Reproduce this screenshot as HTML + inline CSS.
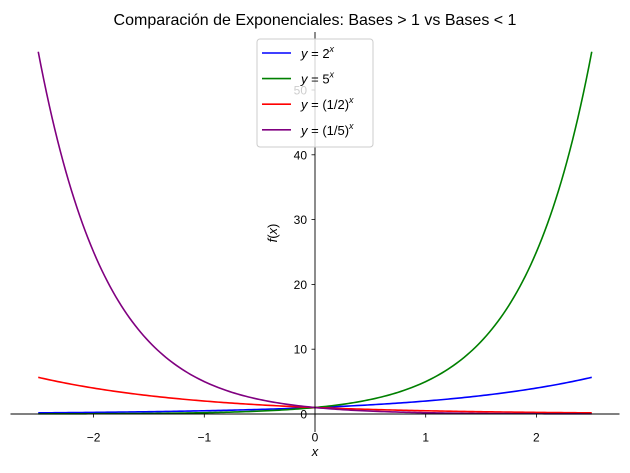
<!DOCTYPE html>
<html><head><meta charset="utf-8"><style>
body{margin:0;background:#fff;}
svg{font-family:"Liberation Sans","DejaVu Sans",sans-serif;}
</style></head><body>
<svg id="chart" width="630" height="468" viewBox="0 0 630 468">
<text x="315" y="25" text-anchor="middle" font-size="16">Comparación de Exponenciales: Bases &gt; 1 vs Bases &lt; 1</text>
<g id="curves"></g>
<g id="axes"></g>
<g id="legend"></g>
</svg>
<script>
const bases=[2,5,0.5,0.2];
const colors=["#0000ff","#008000","#ff0000","#800080"];
const labels=["2","5","(1/2)","(1/5)"];
const xTicks=[-2,-1,0,1,2];
const yTicks=[0,10,20,30,40,50];
const xMin=-2.5,xMax=2.5;
const ns="http://www.w3.org/2000/svg";
function sx(x){return 315+x*110.7;}
function sy(y){return 414-y*6.48;}
function mk(t,a,p){const e=document.createElementNS(ns,t);for(const k in a)e.setAttribute(k,a[k]);p.appendChild(e);return e;}
const curves=document.getElementById('curves');
bases.forEach((b,i)=>{
 let d="";
 for(let k=0;k<=200;k++){const x=xMin+(xMax-xMin)*k/200;d+=(k?"L":"M")+sx(x).toFixed(2)+","+sy(Math.pow(b,x)).toFixed(2);}
 const p=mk('path',{d:d,fill:"none",stroke:colors[i],"stroke-width":1.6},curves);
 
 
});
const axes=document.getElementById('axes');
const xa=mk('line',{x1:10.5,x2:619.5,y1:sy(0),y2:sy(0),stroke:"#000","stroke-width":0.9},axes);


const ya=mk('line',{x1:315,x2:315,y1:32,y2:432,stroke:"#000","stroke-width":0.9},axes);


xTicks.forEach(v=>{
 mk('line',{x1:sx(v),x2:sx(v),y1:414,y2:417.5,stroke:"#000","stroke-width":0.8},axes);
 const t=mk('text',{x:sx(v),y:441.5,"text-anchor":"middle","font-size":12},axes);
 t.textContent=v<0?"\u2212"+(-v):v;
 
 
});
yTicks.forEach(v=>{
 mk('line',{x1:311.5,x2:315,y1:sy(v),y2:sy(v),stroke:"#000","stroke-width":0.8},axes);
 const t=mk('text',{x:307,y:sy(v)+4.5,"text-anchor":"end","font-size":12},axes);
 t.textContent=v;
 
 
});
const xl=mk('text',{x:315,y:456,"text-anchor":"middle","font-size":13,"font-style":"italic"},axes);
xl.textContent="x";


const yl=mk('text',{x:0,y:0,"text-anchor":"middle","font-size":13,transform:"translate(277,233) rotate(-90)"},axes);
yl.innerHTML='<tspan font-style="italic">f</tspan>(<tspan font-style="italic">x</tspan>)';


const lg=document.getElementById('legend');


mk('rect',{x:257,y:39,width:116,height:108,rx:3,fill:"#fff","fill-opacity":0.8,stroke:"#ccc"},lg);
labels.forEach((l,i)=>{
 const y=53+i*25.6;
 const g=mk('g',{},lg);
 
 
 mk('line',{x1:262,x2:291,y1:y,y2:y,stroke:colors[i],"stroke-width":1.6},g);
 const t=mk('text',{x:301,y:y+5,"font-size":13},g);
 t.innerHTML='<tspan font-style="italic">y</tspan> = '+l+'<tspan dy="-6" font-size="9" font-style="italic">x</tspan>';
});
</script>
</body></html>
